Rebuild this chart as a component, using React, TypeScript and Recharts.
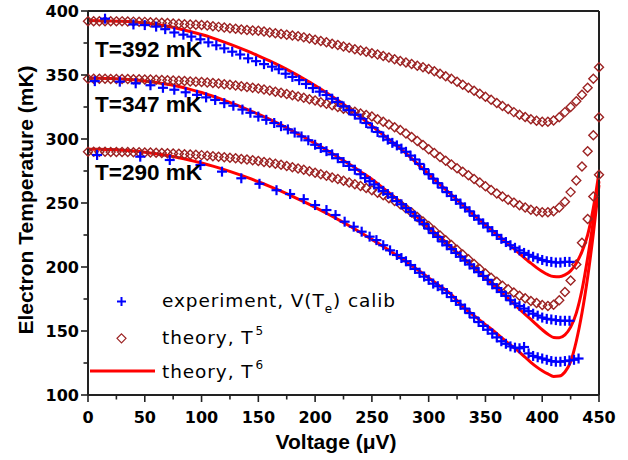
import { ComposedChart, Line, Scatter, XAxis, YAxis } from "recharts";

// theory T^5 curves, sampled every 5 uV
const voltT5 = [
  0, 5, 10, 15, 20, 25, 30, 35, 40, 45, 50, 55, 60, 65, 70, 75, 80, 85, 90, 95,
  100, 105, 110, 115, 120, 125, 130, 135, 140, 145, 150, 155, 160, 165, 170, 175, 180, 185, 190, 195,
  200, 205, 210, 215, 220, 225, 230, 235, 240, 245, 250, 255, 260, 265, 270, 275, 280, 285, 290, 295,
  300, 305, 310, 315, 320, 325, 330, 335, 340, 345, 350, 355, 360, 365, 370, 375, 380, 385, 390, 395,
  400, 405, 410, 415, 420, 425, 430, 435, 440, 445, 450,
];
const t5at392 = [
  392.0, 392.0, 392.0, 392.0, 392.0, 391.9, 391.9, 391.8, 391.7, 391.6, 391.5,
  391.3, 391.1, 390.9, 390.6, 390.3, 390.0, 389.7, 389.4, 389.2, 389.0,
  388.6, 388.1, 387.6, 387.1, 386.6, 386.1, 385.6, 385.1, 384.8, 384.5,
  383.9, 383.2, 382.6, 382.0, 381.4, 380.8, 380.2, 379.4, 378.5, 377.5,
  376.5, 375.5, 374.5, 373.4, 372.3, 371.3, 370.2, 369.1, 368.1, 367.0,
  366.0, 364.8, 363.6, 362.3, 361.0, 359.8, 358.6, 357.2, 356.0, 354.6,
  353.0, 351.0, 349.0, 347.0, 344.7, 342.4, 340.0, 337.7, 335.4, 333.0,
  330.6, 328.2, 325.8, 323.4, 321.0, 319.0, 317.2, 315.5, 314.2, 313.5,
  313.5, 314.5, 317.0, 321.0, 325.0, 329.5, 334.5, 340.0, 347.0, 356.0,
];
const t5at347 = [
  347.0, 347.0, 347.0, 347.0, 346.9, 346.9, 346.8, 346.8, 346.7, 346.6, 346.5,
  346.4, 346.3, 346.1, 345.9, 345.7, 345.5, 345.3, 345.0, 344.8, 344.5,
  344.1, 343.7, 343.3, 342.8, 342.3, 341.8, 341.2, 340.6, 340.1, 339.5,
  338.7, 337.8, 337.0, 336.1, 335.2, 334.2, 333.2, 332.2, 331.1, 330.0,
  328.8, 327.6, 326.3, 325.0, 323.7, 322.4, 321.2, 319.9, 318.7, 317.5,
  315.5, 313.5, 311.4, 309.2, 307.0, 304.3, 301.5, 298.5, 295.3, 292.0,
  289.0, 286.0, 283.0, 280.0, 277.2, 274.4, 271.6, 268.8, 266.0, 263.0,
  260.2, 257.5, 255.0, 252.6, 250.3, 248.2, 246.4, 244.8, 243.6, 242.8,
  242.7, 243.5, 246.5, 251.0, 258.5, 267.5, 278.5, 290.5, 303.0, 317.0,
];
const t5at290 = [
  290.0, 290.0, 290.0, 290.0, 289.9, 289.9, 289.8, 289.8, 289.7, 289.6, 289.5,
  289.4, 289.2, 289.0, 288.8, 288.6, 288.4, 288.1, 287.9, 287.7, 287.4,
  287.0, 286.6, 286.2, 285.8, 285.4, 284.9, 284.4, 283.9, 283.4, 282.8,
  282.1, 281.4, 280.6, 279.8, 278.9, 278.0, 277.0, 275.9, 274.8, 273.6,
  272.4, 271.2, 270.0, 268.7, 267.4, 266.1, 264.7, 263.3, 261.7, 260.0,
  258.0, 256.0, 253.8, 251.5, 249.0, 245.8, 242.5, 239.1, 235.6, 232.0,
  228.3, 224.6, 220.9, 217.2, 213.5, 209.8, 206.1, 202.3, 198.5, 195.0,
  191.6, 188.4, 185.4, 182.6, 180.0, 177.6, 175.5, 173.5, 171.8, 170.4,
  169.6, 170.5, 174.0, 180.5, 189.5, 202.0, 219.0, 237.5, 255.0, 272.0,
];

// theory T^6 curves
const voltT6 = [
  0, 10, 20, 30, 40, 50, 60, 70, 80, 90, 100, 110, 120, 130, 140, 150, 160, 170, 180, 190,
  200, 210, 220, 230, 240, 250, 260, 270, 280, 290, 300, 310, 320, 330, 340, 350, 360, 370, 380,
  385, 390, 395, 400, 405, 410, 415, 420, 425, 430, 435, 440, 445, 450,
];
const t6at392 = [
  392.5, 392.4, 392.2, 391.9, 391.4, 390.7, 389.6, 388.1, 386.2, 384.0, 381.6,
  378.8, 375.7, 372.4, 368.8, 365.0, 361.0, 356.7, 352.0, 347.0, 341.8,
  336.2, 330.2, 323.9, 317.2, 310.2, 303.2, 296.2, 288.8, 280.8, 272.5,
  264.5, 256.5, 248.5, 240.5, 233.0, 225.5, 218.0, 210.5,
  206.5, 203.0, 199.5, 196.5, 194.0, 192.5, 192.3, 193.8, 197.0, 203.0, 212.0, 225.0, 246.0, 274.0,
];
const t6at347 = [
  347.5, 347.4, 347.2, 346.8, 346.2, 345.3, 344.2, 342.8, 341.0, 338.8, 336.3,
  333.4, 330.2, 326.8, 323.2, 319.4, 315.3, 311.0, 306.4, 301.6, 296.6,
  291.4, 286.0, 280.4, 274.5, 268.5, 261.5, 254.5, 247.0, 239.0, 231.0,
  223.5, 215.5, 207.5, 199.5, 191.5, 183.5, 175.5, 167.0,
  163.0, 159.0, 155.0, 151.0, 147.5, 145.0, 144.8, 147.0, 153.0, 164.0, 182.0, 207.0, 236.0, 267.0,
];
const t6at290 = [
  292.0, 291.9, 291.7, 291.3, 290.6, 289.7, 288.5, 287.1, 285.4, 283.4, 281.2,
  278.8, 276.1, 273.2, 270.0, 266.6, 263.0, 259.2, 255.2, 251.0, 246.6,
  242.0, 237.2, 232.2, 227.0, 221.6, 216.0, 210.2, 204.2, 198.0, 191.5,
  185.0, 178.5, 169.0, 162.0, 155.0, 148.0, 140.5, 133.5,
  129.5, 125.5, 122.0, 119.0, 116.5, 114.5, 114.8, 118.0, 126.0, 142.0, 164.0, 192.0, 226.0, 264.0,
];

// experiment, V(Te) calibration
const voltExp392 = [
  15, 40, 50, 60, 68, 76, 84, 91, 99, 106, 113, 120, 127, 134, 141, 148, 155, 162,
  168, 174, 180, 186, 192, 198, 204, 210, 215, 220, 225, 230, 235, 240, 245, 250, 255, 260, 264, 268,
  272, 276, 280, 284, 288, 292, 296, 300, 304, 308, 312, 316, 320, 324, 328, 332, 336, 340, 344, 348,
  352, 356, 360, 364, 368, 372, 376, 380, 384, 388, 392, 396, 400, 404, 408, 412, 416, 420, 424,
];
const exp392 = [
  394, 389.5, 389, 387.8, 385.8, 383.2, 381.5, 380, 377.9, 375.5, 373.2, 370.8, 368.2, 366, 363, 360.8, 358.5, 356.5,
  354.5, 351, 348.5, 346, 343, 339.8, 337, 334.4, 331.5, 329, 325.5, 322.5, 319, 316, 312.5, 309, 305.5, 302, 299.5, 297,
  295, 292.5, 290, 287, 284, 280.5, 276.5, 272.5, 269, 265.5, 262, 258.5, 255.5, 252.5, 249.5, 246.5, 243.5, 240, 237, 234,
  231, 228, 225, 222, 219.5, 217, 215, 213, 211, 209.5, 208, 206.8, 205.5, 204.5, 204, 203.5, 203.5, 204, 204,
];
const voltExp347 = [
  6, 28, 42, 55, 66, 76, 86, 96, 104, 112, 120, 128, 136, 143, 150, 157, 164, 170, 176, 182,
  188, 194, 200, 205, 210, 215, 220, 225, 230, 235, 240, 244, 248, 252, 256, 260, 264, 268, 272, 276,
  280, 284, 288, 292, 296, 300, 304, 308, 312, 316, 320, 324, 328, 332, 336, 340, 344, 348, 352, 356,
  360, 364, 368, 372, 376, 380, 384, 388, 392, 396, 400, 404, 408, 412, 416, 420, 424,
];
const exp347 = [
  345.2, 344.8, 343.5, 342, 340, 338.5, 336.5, 334.5, 332.5, 330.5, 328, 326, 323, 320.5, 317.5, 315, 312.5, 310, 307.5, 305,
  302, 299, 295.5, 293, 290.5, 288, 285, 282, 279, 276, 272.5, 269.5, 267, 264.5, 262, 259.5, 257, 254.5, 251.5, 249,
  246, 243, 240, 236.5, 233.5, 230, 226.5, 223.5, 220, 217, 214, 211, 208, 205, 202, 199, 196, 193, 190, 186.5,
  183.5, 180.5, 177.5, 174, 171.5, 169.5, 167.5, 165.5, 163.5, 162, 160.5, 159.5, 159, 158.5, 158, 158, 158,
];
const voltExp290 = [
  8, 46, 72, 99, 118, 135, 151, 166, 178, 190, 200, 210, 218, 226, 234, 241, 248, 254, 260, 266,
  272, 276, 280, 284, 288, 292, 296, 300, 304, 308, 312, 316, 320, 324, 328, 332, 336, 340, 344, 348,
  352, 356, 360, 364, 368, 372, 376, 380, 384, 388, 392, 396, 400, 404, 408, 412, 416, 420, 424, 428, 432,
];
const exp290 = [
  287.5, 286.2, 283.6, 279.7, 274.5, 269.3, 265, 260, 257, 253, 248.4, 244.5, 240.6, 235.4, 231.5, 227.6, 223.7, 221, 217, 213,
  209.4, 207, 204.5, 201.5, 198.5, 195.5, 192.5, 190, 187, 185, 182.5, 179.7, 176.5, 173.5, 170.5, 167.5, 164, 160.5, 157, 154,
  151, 148, 145, 142, 140, 138, 137, 136.5, 137.5, 132.5, 130.5, 129.5, 128.5, 127.5, 126.5, 126, 126, 126.5, 127, 127.5, 128.5,
];

const xTicks = [0, 25, 50, 75, 100, 125, 150, 175, 200, 225, 250, 275, 300, 325, 350, 375, 400, 425, 450];
const yTicks = [100, 125, 150, 175, 200, 225, 250, 275, 300, 325, 350, 375, 400];
const curveLabels = [
  { text: "T=392 mK", y: 57 },
  { text: "T=347 mK", y: 112 },
  { text: "T=290 mK", y: 180 },
];

const BLUE = "#0000ff";
const BROWN = "#9c2323";
const RED = "#ff0000";
const AXIS = "#222";
const TICK_FONT = "'DejaVu Sans', sans-serif";
const ARIAL = "'Liberation Sans', Arial, sans-serif";

const pts = (xs: number[], ys: number[]) => xs.map((x, i) => ({ x, y: ys[i] }));

const Cross = (props: any) => {
  const { cx, cy } = props;
  if (cx == null || cy == null) return <g />;
  const r = 5;
  return (
    <g>
      <line x1={cx - r} y1={cy} x2={cx + r} y2={cy} stroke={BLUE} strokeWidth={2.2} />
      <line x1={cx} y1={cy - r} x2={cx} y2={cy + r} stroke={BLUE} strokeWidth={2.2} />
    </g>
  );
};

const Diamond = (props: any) => {
  const { cx, cy } = props;
  if (cx == null || cy == null) return <g />;
  const r = 4.5;
  return (
    <polygon
      points={`${cx},${cy - r} ${cx + r},${cy} ${cx},${cy + r} ${cx - r},${cy}`}
      fill="none"
      stroke={BROWN}
      strokeWidth={1.4}
    />
  );
};

// plot box in page pixels
const LEFT = 88;
const RIGHT = 599;
const TOP = 11;
const BOTTOM = 395;

const BottomTick = ({ x, payload }: any) => {
  const major = payload.value % 50 === 0;
  return (
    <g>
      <line x1={x} y1={BOTTOM} x2={x} y2={BOTTOM + (major ? 7 : 4.5)} stroke={AXIS} strokeWidth={1.6} />
      {major && (
        <text x={x} y={BOTTOM + 28} textAnchor="middle" fontFamily={TICK_FONT} fontWeight="bold" fontSize={16} fill="#000">
          {payload.value}
        </text>
      )}
    </g>
  );
};

const LeftTick = ({ y, payload }: any) => {
  const major = payload.value % 50 === 0;
  return (
    <g>
      <line x1={LEFT - (major ? 7 : 4.5)} y1={y} x2={LEFT} y2={y} stroke={AXIS} strokeWidth={1.6} />
      {major && (
        <text x={LEFT - 9} y={y + 6} textAnchor="end" fontFamily={TICK_FONT} fontWeight="bold" fontSize={16} fill="#000">
          {payload.value}
        </text>
      )}
    </g>
  );
};

const TopTick = ({ x, payload }: any) => {
  const major = payload.value % 50 === 0;
  return <line x1={x} y1={TOP} x2={x} y2={TOP + (major ? 7 : 4.5)} stroke={AXIS} strokeWidth={1.6} />;
};

const RightTick = ({ y, payload }: any) => {
  const major = payload.value % 50 === 0;
  return <line x1={RIGHT - (major ? 7 : 4.5)} y1={y} x2={RIGHT} y2={y} stroke={AXIS} strokeWidth={1.6} />;
};

export default function App() {
  return (
    <div style={{ position: "absolute", left: 0, top: 0, width: 628, height: 460, background: "#fff" }}>
      <ComposedChart width={628} height={460} margin={{ top: 1, right: 19, bottom: 35, left: 28 }}>
        <XAxis
          dataKey="x"
          type="number"
          domain={[0, 450]}
          ticks={xTicks}
          interval={0}
          height={30}
          tickLine={false}
          axisLine={{ stroke: AXIS, strokeWidth: 2 }}
          tick={<BottomTick />}
        />
        <XAxis
          xAxisId="top"
          orientation="top"
          dataKey="x"
          type="number"
          domain={[0, 450]}
          ticks={xTicks}
          interval={0}
          height={10}
          tickLine={false}
          axisLine={{ stroke: AXIS, strokeWidth: 2 }}
          tick={<TopTick />}
        />
        <YAxis
          type="number"
          domain={[100, 400]}
          ticks={yTicks}
          interval={0}
          width={60}
          tickLine={false}
          axisLine={{ stroke: AXIS, strokeWidth: 2 }}
          tick={<LeftTick />}
        />
        <YAxis
          yAxisId="right"
          orientation="right"
          type="number"
          domain={[100, 400]}
          ticks={yTicks}
          interval={0}
          width={10}
          tickLine={false}
          axisLine={{ stroke: AXIS, strokeWidth: 2 }}
          tick={<RightTick />}
        />

        <Line data={pts(voltT6, t6at392)} dataKey="y" type="monotone" stroke={RED} strokeWidth={3} dot={false} isAnimationActive={false} />
        <Line data={pts(voltT6, t6at347)} dataKey="y" type="monotone" stroke={RED} strokeWidth={3} dot={false} isAnimationActive={false} />
        <Line data={pts(voltT6, t6at290)} dataKey="y" type="monotone" stroke={RED} strokeWidth={3} dot={false} isAnimationActive={false} />

        <Scatter data={pts(voltT5, t5at392)} dataKey="y" shape={<Diamond />} isAnimationActive={false} />
        <Scatter data={pts(voltT5, t5at347)} dataKey="y" shape={<Diamond />} isAnimationActive={false} />
        <Scatter data={pts(voltT5, t5at290)} dataKey="y" shape={<Diamond />} isAnimationActive={false} />

        <Scatter data={pts(voltExp392, exp392)} dataKey="y" shape={<Cross />} isAnimationActive={false} />
        <Scatter data={pts(voltExp347, exp347)} dataKey="y" shape={<Cross />} isAnimationActive={false} />
        <Scatter data={pts(voltExp290, exp290)} dataKey="y" shape={<Cross />} isAnimationActive={false} />
      </ComposedChart>

      <svg width={628} height={460} style={{ position: "absolute", left: 0, top: 0, pointerEvents: "none" }}>
        {curveLabels.map((l) => (
          <text key={l.text} x={95} y={l.y} fontFamily={ARIAL} fontWeight="bold" fontSize={22.5} fill="#000">
            {l.text}
          </text>
        ))}

        {/* legend */}
        <line x1={117} y1={301.5} x2={126} y2={301.5} stroke={BLUE} strokeWidth={2} />
        <line x1={121.5} y1={297} x2={121.5} y2={306} stroke={BLUE} strokeWidth={2} />
        <polygon points="121.5,333.8 126,338.3 121.5,342.8 117,338.3" fill="none" stroke={BROWN} strokeWidth={1.2} />
        <line x1={90} y1={371} x2={155} y2={371} stroke={RED} strokeWidth={3} />
        <g fontFamily={TICK_FONT} fontSize={18.5} letterSpacing={0.9} fill="#000">
          <text x={162} y={307}>
            experiment, V(T<tspan fontSize={12} dy={6}>e</tspan>
            <tspan dy={-6}>) calib</tspan>
          </text>
          <text x={162} y={344}>
            theory, T<tspan fontSize={12} dx={2} dy={-9}>5</tspan>
          </text>
          <text x={162} y={378}>
            theory, T<tspan fontSize={12} dx={2} dy={-9}>6</tspan>
          </text>
        </g>

        {/* axis titles */}
        <text x={336} y={449} textAnchor="middle" fontFamily={ARIAL} fontWeight="bold" fontSize={21} fill="#000">
          Voltage (μV)
        </text>
        <text
          transform="translate(33,200) rotate(-90)"
          textAnchor="middle"
          fontFamily={ARIAL}
          fontWeight="bold"
          fontSize={21}
          fill="#000"
        >
          Electron Temperature (mK)
        </text>
      </svg>
    </div>
  );
}
